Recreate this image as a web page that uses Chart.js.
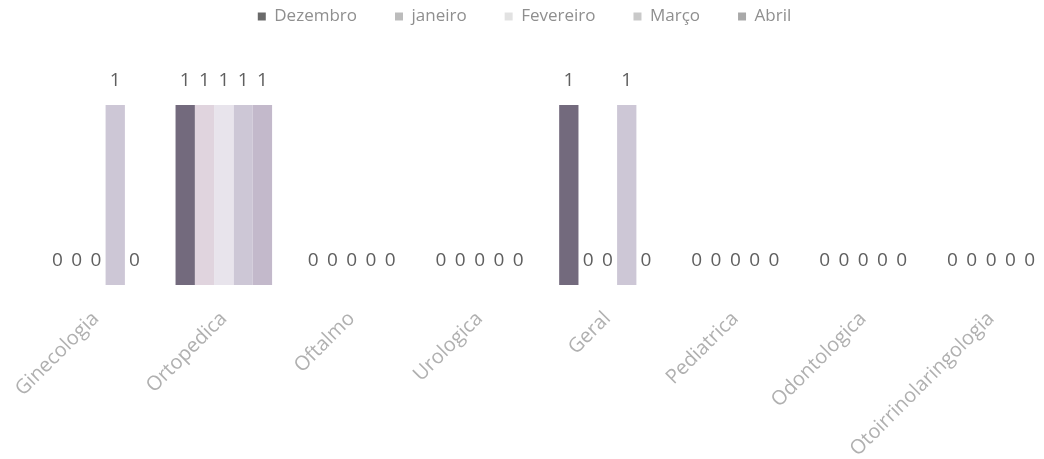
<!DOCTYPE html>
<html>
<head>
<meta charset="utf-8">
<script src="https://cdn.jsdelivr.net/npm/chart.js@4.4.1/dist/chart.umd.min.js"></script>
<style>
  html, body { margin: 0; padding: 0; background: #ffffff; overflow: hidden; width: 1044px; height: 459px; }
  #wrap { position: absolute; left: -28px; top: 0; width: 1101px; height: 459px; }
</style>
</head>
<body>
<div id="wrap"><canvas id="c" width="1101" height="459"></canvas></div>
<script>
const categories = ['Ginecologia', 'Ortopedica', 'Oftalmo', 'Urologica', 'Geral', 'Pediatrica', 'Odontologica', 'Otoirrinolaringologia'];
const seriesNames = ['Dezembro', 'janeiro', 'Fevereiro', 'Março', 'Abril'];
const dezembro = [0, 1, 0, 0, 1, 0, 0, 0];
const janeiro = [0, 1, 0, 0, 0, 0, 0, 0];
const fevereiro = [0, 1, 0, 0, 0, 0, 0, 0];
const marco = [1, 1, 0, 0, 1, 0, 0, 0];
const abril = [0, 1, 0, 0, 0, 0, 0, 0];
const seriesValues = [dezembro, janeiro, fevereiro, marco, abril];
const seriesColors = ['#736a7d', '#e0d4de', '#e8e4ec', '#cdc7d6', '#c3b9cb'];
const legendColors = ['#6a6a6a', '#bcbcbc', '#e2e2e2', '#c9c9c9', '#a9a9a9'];

const LEGEND_PAD = 38;

const dataLabels = {
  id: 'dataLabels',
  afterDatasetsDraw(chart) {
    const ctx = chart.ctx;
    ctx.save();
    ctx.font = '19px "Open Sans"';
    ctx.fillStyle = '#5f5f5f';
    ctx.textAlign = 'center';
    ctx.textBaseline = 'middle';
    chart.data.datasets.forEach((ds, di) => {
      const meta = chart.getDatasetMeta(di);
      if (meta.hidden) return;
      meta.data.forEach((el, i) => {
        const v = ds.data[i];
        ctx.fillText(String(v), el.x, el.y - 24);
      });
    });
    ctx.restore();
  }
};

const legendShift = {
  id: 'legendShift',
  afterLayout(chart) {
    const lg = chart.legend;
    if (!lg) return;
    const newTop = 8 - LEGEND_PAD;
    const d = lg.top - newTop;
    lg.top -= d;
    lg.bottom -= d;
    lg.left -= 19;
    lg.right -= 19;
  }
};

new Chart(document.getElementById('c'), {
  type: 'bar',
  data: {
    labels: categories,
    datasets: seriesNames.map((name, k) => ({
      label: name,
      data: seriesValues[k],
      backgroundColor: seriesColors[k],
      borderWidth: 0,
      barPercentage: 1.0,
      categoryPercentage: 0.755
    }))
  },
  options: {
    responsive: false,
    animation: false,
    devicePixelRatio: 1,
    layout: { padding: { top: 40, left: 60, right: 18, bottom: 0 } },
    plugins: {
      tooltip: { enabled: false },
      legend: {
        position: 'top',
        labels: {
          boxWidth: 8,
          boxHeight: 8,
          padding: LEGEND_PAD,
          color: '#8f8f8f',
          font: { family: '"Open Sans"', size: 17 },
          generateLabels(chart) {
            return chart.data.datasets.map((ds, i) => ({
              text: ds.label,
              fillStyle: legendColors[i],
              strokeStyle: legendColors[i],
              lineWidth: 0,
              hidden: !chart.isDatasetVisible(i),
              datasetIndex: i,
              fontColor: '#8f8f8f'
            }));
          }
        }
      }
    },
    scales: {
      x: {
        grid: { display: false, drawTicks: false },
        border: { display: false },
        ticks: {
          minRotation: 45,
          maxRotation: 45,
          padding: 22,
          color: '#b0b0b0',
          font: { family: '"Open Sans"', size: 20 }
        },
        afterFit(scale) { scale.height = 174; }
      },
      y: {
        display: false,
        min: 0,
        max: 1
      }
    }
  },
  plugins: [dataLabels, legendShift]
});
</script>
</body>
</html>
